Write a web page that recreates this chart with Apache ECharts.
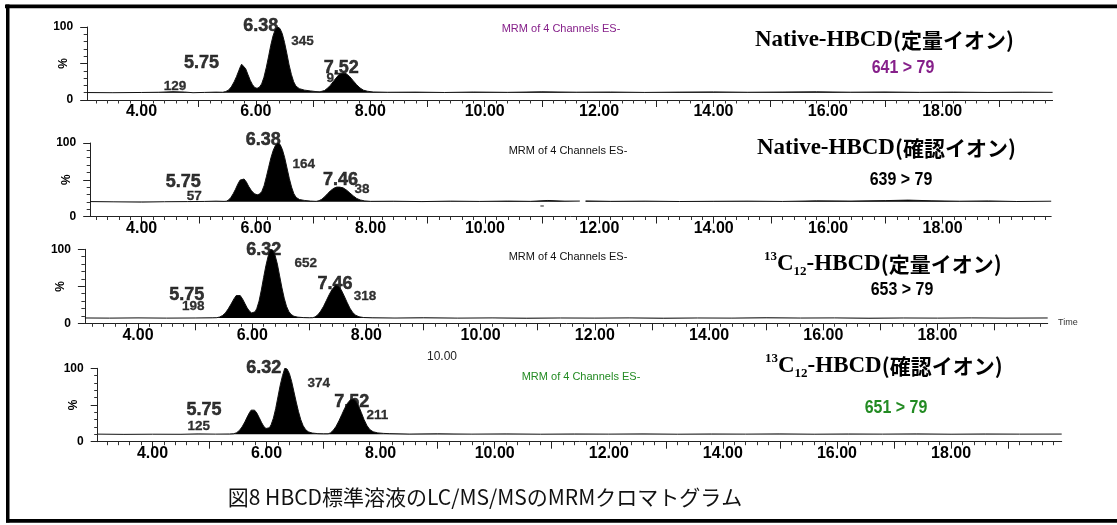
<!DOCTYPE html>
<html>
<head>
<meta charset="utf-8">
<script src="https://cdn.jsdelivr.net/npm/echarts@6/dist/echarts.min.js"></script>
<style>
  html, body { margin: 0; padding: 0; background: #fff; }
  #chart { width: 1117px; height: 525px; }
</style>
</head>
<body>
<div id="chart"></div>
<script>
// Retention-time axis labels (min) and intensity labels (%)
const timeLabels = [4, 6, 8, 10, 12, 14, 16, 18];
const intensityLabels = [0, 100];

// Native-HBCD, quantifier ion 641 > 79  [time (min), relative intensity (%)]
const trace641 = [
  [3.05, 10.2], [3.5, 10.0], [4.0, 10.3], [4.3, 10.6], [4.55, 11.4], [4.75, 10.9], [4.9, 10.0], [5.1, 10.4], [5.3, 10.8], [5.42, 10.6],
  [5.47, 11.5], [5.52, 13.5], [5.57, 18], [5.62, 25], [5.66, 32], [5.7, 40], [5.73, 46], [5.75, 49], [5.78, 48], [5.82, 43], [5.86, 35], [5.9, 27], [5.94, 21], [5.98, 17], [6.02, 16], [6.06, 17.5],
  [6.1, 22], [6.14, 31], [6.18, 44], [6.22, 59], [6.26, 75], [6.3, 88], [6.34, 97], [6.38, 100], [6.42, 98], [6.46, 91], [6.5, 79], [6.54, 64], [6.58, 48], [6.62, 35], [6.66, 25], [6.7, 19], [6.76, 15.5], [6.85, 13.5], [6.95, 12.5], [7.05, 11.5], [7.12, 11.2],
  [7.15, 11.5], [7.2, 13], [7.25, 16], [7.3, 20], [7.35, 25], [7.4, 30], [7.45, 34.5], [7.52, 37], [7.58, 36], [7.64, 32], [7.7, 26.5], [7.76, 21], [7.82, 16.5], [7.88, 13.5], [7.95, 12], [8.05, 11],
  [8.3, 10.6], [8.8, 10.8], [9.3, 10.3], [9.8, 10.9], [10.4, 10.5], [11.0, 11.2], [11.6, 10.7], [12.2, 10.9], [12.8, 10.4], [13.4, 10.8], [14.0, 11.1], [14.6, 10.6], [15.2, 10.9], [15.8, 11.2], [16.4, 10.7], [17.0, 11.0], [17.6, 10.5], [18.2, 10.8], [18.8, 10.4], [19.4, 10.7], [19.93, 10.5]
];
const rt641 = [5.75, 6.38, 7.52];
const area641 = [129, 345, 97];

// Native-HBCD, qualifier ion 639 > 79
const trace639 = [
  [3.1, 20.3], [3.5, 20.0], [4.0, 19.6], [4.4, 20.1], [4.8, 20.3], [5.1, 20.5], [5.3, 20.9], [5.44, 20.6],
  [5.48, 20.8], [5.52, 22.5], [5.56, 26], [5.6, 31], [5.64, 37], [5.68, 44], [5.72, 49.5], [5.75, 52], [5.79, 51], [5.83, 47], [5.87, 41], [5.92, 35], [5.97, 31], [6.02, 29.5], [6.06, 30.5],
  [6.1, 34], [6.14, 42], [6.18, 54], [6.22, 67], [6.26, 80], [6.3, 90], [6.34, 97], [6.38, 100], [6.42, 98], [6.46, 91], [6.5, 80], [6.54, 66], [6.58, 52], [6.62, 40], [6.66, 31], [6.7, 26], [6.76, 23], [6.85, 21.8], [6.95, 21], [7.05, 20.6],
  [7.1, 21.5], [7.15, 23.5], [7.2, 27], [7.25, 31], [7.3, 35], [7.36, 38.5], [7.41, 40], [7.46, 40], [7.52, 39], [7.58, 36], [7.64, 32], [7.7, 28], [7.76, 24.5], [7.82, 22.5], [7.9, 21.2], [8.0, 20.6],
  [8.4, 20.8], [8.9, 20.3], [9.4, 20.9], [9.9, 20.5], [10.4, 21.0], [10.8, 20.6], [11.1, 21.8], [11.4, 20.9], [11.66, 21.0], [11.7, null], [11.76, 21.2],
  [12.2, 20.6], [12.8, 20.9], [13.4, 20.4], [14.0, 20.7], [14.6, 20.9], [15.2, 20.5], [15.8, 21.3], [16.4, 21.0], [17.0, 21.6], [17.4, 22.3], [17.8, 21.4], [18.3, 20.8], [18.8, 21.2], [19.3, 20.4], [19.9, 20.8]
];
const blip639 = [[10.97, 14.3], [11.03, 14.3]];
const rt639 = [5.75, 6.38, 7.46];
const area639 = [57, 164, 38];

// 13C12-HBCD, quantifier ion 653 > 79
const trace653 = [
  [3.07, 7.2], [3.5, 7.0], [4.0, 7.3], [4.5, 7.0], [5.0, 7.2], [5.3, 7.4], [5.38, 7.6],
  [5.43, 8.5], [5.48, 10.5], [5.53, 14], [5.58, 19.5], [5.63, 26], [5.68, 33], [5.72, 37.5], [5.75, 39], [5.79, 37.5], [5.83, 33], [5.87, 27], [5.91, 21], [5.95, 16.5], [5.99, 14], [6.02, 13.5], [6.05, 15.5],
  [6.08, 20], [6.12, 30], [6.16, 45], [6.2, 62], [6.24, 78], [6.28, 91], [6.32, 100], [6.36, 99], [6.4, 92], [6.44, 80], [6.48, 64], [6.52, 48], [6.56, 34], [6.6, 23], [6.64, 16], [6.68, 12], [6.73, 9.5], [6.8, 8.3], [6.9, 7.7], [7.0, 7.5], [7.06, 7.6],
  [7.1, 8.6], [7.15, 11.5], [7.2, 16.5], [7.25, 23], [7.3, 31], [7.35, 39], [7.4, 46], [7.46, 51], [7.51, 50], [7.56, 45], [7.61, 37], [7.66, 28.5], [7.71, 20.5], [7.76, 14.5], [7.81, 11], [7.87, 8.8], [7.95, 7.8], [8.1, 7.4],
  [8.5, 7.1], [9.0, 7.4], [9.6, 7.0], [10.2, 7.3], [10.8, 6.9], [11.4, 7.2], [12.0, 7.0], [12.6, 7.3], [13.2, 6.9], [13.8, 7.2], [14.4, 7.0], [15.0, 7.4], [15.6, 7.1], [16.2, 7.3], [16.8, 6.9], [17.4, 7.2], [18.0, 7.0], [18.6, 7.3], [19.2, 7.0], [19.93, 7.2]
];
const rt653 = [5.75, 6.32, 7.46];
const area653 = [198, 652, 318];

// 13C12-HBCD, qualifier ion 651 > 79
const trace651 = [
  [3.04, 10.3], [3.5, 10.0], [4.0, 10.2], [4.5, 10.1], [4.8, 10.6], [5.1, 10.3], [5.35, 10.5], [5.42, 10.8],
  [5.47, 12], [5.52, 15], [5.57, 20], [5.62, 27], [5.66, 33.5], [5.7, 39.5], [5.73, 43], [5.75, 44], [5.79, 43], [5.83, 39], [5.87, 33], [5.91, 26.5], [5.95, 21], [5.99, 18], [6.02, 17.5], [6.05, 19],
  [6.08, 23], [6.12, 32], [6.16, 45], [6.2, 61], [6.24, 77], [6.28, 90], [6.32, 100], [6.36, 99], [6.4, 93], [6.44, 82], [6.48, 68], [6.52, 54], [6.56, 41], [6.6, 30], [6.64, 22], [6.68, 17], [6.73, 13.5], [6.8, 11.8], [6.9, 11], [7.0, 10.8], [7.08, 10.8],
  [7.12, 12], [7.17, 15.5], [7.22, 21], [7.27, 28.5], [7.32, 37], [7.37, 45.5], [7.42, 52.5], [7.47, 57], [7.52, 58], [7.56, 56], [7.61, 49.5], [7.66, 40], [7.71, 30], [7.76, 22], [7.81, 16.5], [7.87, 13.5], [7.95, 12], [8.05, 11.3], [8.15, 11],
  [8.5, 10.4], [9.0, 10.7], [9.6, 10.3], [10.2, 10.6], [10.8, 10.2], [11.4, 10.5], [12.0, 10.3], [12.6, 10.6], [13.2, 10.2], [13.8, 10.5], [14.4, 10.3], [15.0, 10.6], [15.6, 10.2], [16.2, 10.5], [16.8, 10.3], [17.4, 10.6], [18.0, 10.2], [18.6, 10.5], [19.2, 10.3], [19.94, 10.4]
];
const rt651 = [5.75, 6.32, 7.52];
const area651 = [125, 374, 211];

const PURPLE = '#86208a';
const GREEN = '#238b23';
const SANS = '"Liberation Sans", Arial, sans-serif';
const SERIF = '"Liberation Serif", "Times New Roman", serif';
const CJK = '"Noto Sans CJK JP", sans-serif';

// Panel layout: plot rectangle, time window, integration baseline level, label nudges (px)
const panels = [
  { trace: trace641, rt: rt641, area: area641, base: 10, min: 3.05, max: 19.93,
    grid: { left: 87.2, top: 27, width: 965.4, height: 73 },
    rtOff: [[-40, -1], [-17, -1], [-1.5, -4.7]], areaOff: [[-66.6, 21.6], [24.9, 14.3], [-8.8, 5]] },
  { trace: trace639, rt: rt639, area: area639, base: 20, min: 3.1, max: 19.9,
    grid: { left: 90.2, top: 143, width: 961, height: 73.5 },
    rtOff: [[-58.5, 3.7], [-14.5, -3], [0.9, -6.6]], areaOff: [[-47.6, 18.4], [26, 21.3], [22.4, 1.9]] },
  { trace: trace653, rt: rt653, area: area653, base: 7, min: 3.07, max: 19.93,
    grid: { left: 84.9, top: 249.3, width: 962.8, height: 74 },
    rtOff: [[-51.2, 0.6], [-6.7, 0.7], [-0.6, -1.4]], areaOff: [[-44.6, 11.4], [35.3, 14], [29.4, 11.1]] },
  { trace: trace651, rt: rt651, area: area651, base: 10, min: 3.04, max: 19.94,
    grid: { left: 97.7, top: 368.3, width: 964, height: 73.4 },
    rtOff: [[-48.3, 0.6], [-21, 0], [-1.6, 2.6]], areaOff: [[-53.6, 17.3], [34, 15], [24.2, 15.9]] }
];

function steps(from, to, step) {
  const out = [];
  for (let v = from; v <= to + 1e-9; v += step) out.push(Math.round(v * 100) / 100);
  return out;
}

const grid = [], xAxis = [], yAxis = [], series = [];

panels.forEach((p, i) => {
  grid.push(Object.assign({ containLabel: false }, p.grid));
  const majorX = steps(Math.ceil(p.min), Math.floor(p.max), 1);
  const minorX = steps(Math.ceil(p.min * 5) / 5, p.max, 0.2).filter(v => Math.abs(v - Math.round(v)) > 1e-6);

  xAxis.push({
    type: 'value', gridIndex: i, min: p.min, max: p.max, position: 'bottom',
    axisLine: { show: true, onZero: false, lineStyle: { color: '#222', width: 1 } },
    axisTick: { show: true, length: 7, customValues: majorX, lineStyle: { color: '#222' } },
    axisLabel: { show: true, customValues: timeLabels, formatter: v => v.toFixed(2), margin: 4,
      fontSize: 16, fontWeight: 'bold', fontFamily: SANS, color: '#000' },
    splitLine: { show: false }
  });
  xAxis.push({
    type: 'value', gridIndex: i, min: p.min, max: p.max, position: 'bottom',
    axisLine: { show: false, onZero: false },
    axisTick: { show: true, length: 3.5, customValues: minorX, lineStyle: { color: '#333' } },
    axisLabel: { show: false }, splitLine: { show: false }
  });
  yAxis.push({
    type: 'value', gridIndex: i, min: 0, max: 100, position: 'left',
    name: '%', nameLocation: 'middle', nameGap: 18, nameRotate: 90, nameMoveOverlap: false,
    nameTextStyle: { fontSize: 12, fontWeight: 'bold', fontFamily: SANS, color: '#000' },
    axisLine: { show: true, lineStyle: { color: '#222', width: 1 } },
    axisTick: { show: true, length: 7, customValues: [0, 50, 100], lineStyle: { color: '#222' } },
    axisLabel: { show: true, customValues: intensityLabels, margin: 14, fontSize: 12, fontWeight: 'bold', fontFamily: SANS, color: '#000' },
    splitLine: { show: false }
  });
  yAxis.push({
    type: 'value', gridIndex: i, min: 0, max: 100, position: 'left',
    axisLine: { show: false },
    axisTick: { show: true, length: 3.5, customValues: [10, 20, 30, 40, 60, 70, 80, 90], lineStyle: { color: '#333' } },
    axisLabel: { show: false }, splitLine: { show: false }
  });

  // chromatogram trace, peaks shaded down to the integration baseline
  series.push({
    type: 'line', xAxisIndex: 2 * i, yAxisIndex: 2 * i, data: p.trace, symbol: 'none', z: 3,
    connectNulls: false, silent: true,
    lineStyle: { color: '#111', width: 1 },
    areaStyle: { color: '#000', opacity: 1, origin: p.base }
  });

  const apex = p.rt.map(t => p.trace.find(pt => pt[0] === t)[1]);
  // retention time above each peak
  series.push({
    type: 'scatter', xAxisIndex: 2 * i, yAxisIndex: 2 * i, symbolSize: 0, z: 2, silent: true,
    itemStyle: { color: '#000' },
    data: p.rt.map((t, k) => ({ value: [t, apex[k]], label: { offset: p.rtOff[k] } })),
    label: { show: true, position: 'inside', formatter: d => d.value[0].toFixed(2),
      fontSize: 18, fontWeight: 'bold', fontFamily: SANS, color: '#000',
      textBorderColor: '#000', textBorderWidth: 0.5 }
  });
  // peak area beside each peak
  series.push({
    type: 'scatter', xAxisIndex: 2 * i, yAxisIndex: 2 * i, symbolSize: 0, z: 1, silent: true,
    itemStyle: { color: '#000' },
    data: p.rt.map((t, k) => ({ value: [t, apex[k]], label: { offset: p.areaOff[k] } })),
    label: { show: true, position: 'inside', formatter: d => String(p.area[d.dataIndex]),
      fontSize: 13.5, fontWeight: 'bold', fontFamily: SANS, color: '#000',
      textBorderColor: '#000', textBorderWidth: 0.3 }
  });
});

// stray detector blip on the 639 > 79 trace
series.push({
  type: 'line', xAxisIndex: 2, yAxisIndex: 2, data: blip639, symbol: 'none', silent: true,
  lineStyle: { color: '#222', width: 1 }
});

const titleRich = {
  s: { fontFamily: SERIF, fontWeight: 'bold', fontSize: 23, fill: '#000', lineHeight: 28 },
  j: { fontFamily: CJK, fontWeight: 'bold', fontSize: 21, fill: '#000', lineHeight: 28 },
  sup: { fontFamily: SERIF, fontWeight: 'bold', fontSize: 13, fill: '#000', lineHeight: 12, verticalAlign: 'top' },
  sub: { fontFamily: SERIF, fontWeight: 'bold', fontSize: 13, fill: '#000', lineHeight: 12, verticalAlign: 'bottom' }
};

function label(x, y, text, font, fill, align, scaleX) {
  return { type: 'text', x, y, scaleX: scaleX || 1, silent: true,
    style: { text, font, fill, align: align || 'center', textAlign: align || 'center',
      verticalAlign: 'middle', textVerticalAlign: 'middle' } };
}
function title(x, y, text) {
  return { type: 'text', x, y, silent: true,
    style: { text, rich: titleRich, align: 'left', textAlign: 'left', verticalAlign: 'middle', textVerticalAlign: 'middle' } };
}

const ION_FONT = 'bold 19px ' + SANS;

const graphic = [
  // frame
  { type: 'rect', silent: true, shape: { x: 5, y: 4.5, width: 1112, height: 3.8 }, style: { fill: '#000' } },
  { type: 'rect', silent: true, shape: { x: 6, y: 4.5, width: 3.5, height: 518 }, style: { fill: '#000' } },
  { type: 'rect', silent: true, shape: { x: 6, y: 519, width: 1111, height: 3.8 }, style: { fill: '#000' } },

  label(561, 29, 'MRM of 4 Channels ES-', '11px ' + SANS, PURPLE),
  title(755, 40, '{s|Native-HBCD}{j|(定量イオン)}'),
  label(903, 68, '641 > 79', ION_FONT, PURPLE, 'center', 0.84),

  label(568, 151, 'MRM of 4 Channels ES-', '11px ' + SANS, '#111'),
  title(757, 148, '{s|Native-HBCD}{j|(確認イオン)}'),
  label(901, 180, '639 > 79', ION_FONT, '#000', 'center', 0.84),

  label(568, 257, 'MRM of 4 Channels ES-', '11px ' + SANS, '#111'),
  title(764, 264, '{sup|13}{s|C}{sub|12}{s|-HBCD}{j|(定量イオン)}'),
  label(902, 290, '653 > 79', ION_FONT, '#000', 'center', 0.84),
  label(1058, 323, 'Time', '9px ' + SANS, '#333', 'left'),

  label(442, 357, '10.00', '12px ' + SANS, '#222'),
  label(581, 377, 'MRM of 4 Channels ES-', '11px ' + SANS, GREEN),
  title(765, 366, '{sup|13}{s|C}{sub|12}{s|-HBCD}{j|(確認イオン)}'),
  label(896, 408, '651 > 79', ION_FONT, GREEN, 'center', 0.84),

  label(485, 497, '図8 HBCD標準溶液のLC/MS/MSのMRMクロマトグラム', '21px ' + CJK, '#111')
];

const chart = echarts.init(document.getElementById('chart'), null, { renderer: 'canvas' });
chart.setOption({
  animation: false,
  backgroundColor: '#fff',
  grid, xAxis, yAxis, series, graphic
});
</script>
</body>
</html>
